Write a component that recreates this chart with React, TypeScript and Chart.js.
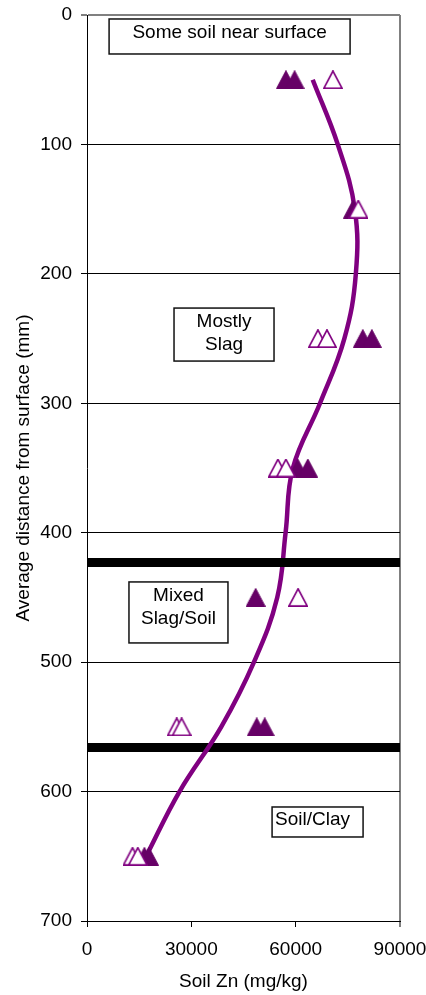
import React, { useEffect, useRef } from 'react';
import { Chart, registerables } from 'chart.js';

Chart.register(...registerables);

// ---- data ----
const X_TICK_STEP = 30000;
const X_MAX = 90000;
const Y_TICK_STEP = 100;
const Y_MAX = 700;

const filledDepth = [50, 50, 150, 250, 250, 350, 350, 450, 550, 550, 650, 650];
const filledZn = [57200, 59700, 76500, 79300, 81900, 60600, 63500, 48500, 48800, 51100, 16500, 17800];

const openDepth = [50, 150, 250, 250, 350, 350, 450, 550, 550, 650, 650];
const openZn = [70700, 78000, 66400, 69000, 54900, 57200, 60700, 25800, 27200, 13100, 14600];

const trendDepth = [50, 100, 150, 200, 250, 300, 350, 400, 450, 500, 550, 600, 650];
const trendZn = [64900, 72100, 77000, 77300, 74000, 67000, 59200, 57100, 54700, 48000, 38600, 26600, 17000];

const boundaryDepths = [423, 566];

const noteText = [['Some soil near surface'], ['Mostly', 'Slag'], ['Mixed', 'Slag/Soil'], ['Soil/Clay']];
const noteZn = [41000, 39400, 26300, 66300];
const noteDepth = [16.6, 246.9, 461.6, 623.5];

// ---- styles ----
const FONT_FAMILY = '"Liberation Sans", Arial, Helvetica, sans-serif';
const FONT = { family: FONT_FAMILY, size: 19 };
const NOTE_BOX = [[241, 35], [100, 53], [99, 61], [91, 30]];
const NOTE_BASE = [[1.8], [-7.2, 15.8], [-11.5, 11.5], [3]];
const NOTE_DX = [0, 0, 0, -5];

function makeTriangle(fill: string, stroke: string, lw: number) {
  const c = document.createElement('canvas');
  c.width = 20;
  c.height = 19;
  const g = c.getContext('2d')!;
  const i = lw / 2;
  g.beginPath();
  g.moveTo(10, i);
  g.lineTo(20 - i, 19 - i);
  g.lineTo(i, 19 - i);
  g.closePath();
  g.fillStyle = fill;
  g.fill();
  g.lineWidth = lw;
  g.strokeStyle = stroke;
  g.stroke();
  return c;
}

const notesPlugin = {
  id: 'notes',
  afterDatasetsDraw(chart: any) {
    const { ctx, scales } = chart;
    const x = scales.x;
    const y = scales.y;
    ctx.save();
    noteText.forEach((lines, i) => {
      const cx = x.getPixelForValue(noteZn[i]);
      const cy = y.getPixelForValue(noteDepth[i]);
      const [w, h] = NOTE_BOX[i];
      ctx.fillStyle = '#ffffff';
      ctx.fillRect(cx - w / 2, cy - h / 2, w, h);
      ctx.strokeStyle = '#111111';
      ctx.lineWidth = 1.5;
      ctx.strokeRect(cx - w / 2, cy - h / 2, w, h);
      ctx.fillStyle = '#000000';
      ctx.font = `19px ${FONT_FAMILY}`;
      ctx.textAlign = 'center';
      ctx.textBaseline = 'alphabetic';
      lines.forEach((t, j) => ctx.fillText(t, cx + NOTE_DX[i], cy + NOTE_BASE[i][j]));
    });
    ctx.restore();
  },
};

export default function App() {
  const ref = useRef<HTMLCanvasElement | null>(null);

  useEffect(() => {
    if (!ref.current) return;
    const filledTri = makeTriangle('#660066', '#660066', 1);
    const openTri = makeTriangle('#ffffff', '#800080', 1.7);

    const chart = new Chart(ref.current, {
      type: 'scatter',
      data: {
        datasets: [
          {
            label: 'open',
            data: openZn.map((v, i) => ({ x: v, y: openDepth[i] })),
            pointStyle: openTri as any,
            pointRadius: 10,
            showLine: false,
            order: 1,
          },
          {
            label: 'filled',
            data: filledZn.map((v, i) => ({ x: v, y: filledDepth[i] })),
            pointStyle: filledTri as any,
            pointRadius: 10,
            showLine: false,
            order: 2,
          },
          {
            label: 'boundary1',
            data: [{ x: 0, y: boundaryDepths[0] }, { x: X_MAX, y: boundaryDepths[0] }],
            showLine: true,
            borderColor: '#000000',
            borderWidth: 9,
            borderCapStyle: 'butt',
            pointRadius: 0,
            order: 3,
          },
          {
            label: 'trend',
            data: trendZn.map((v, i) => ({ x: v, y: trendDepth[i] })),
            showLine: true,
            borderColor: '#800080',
            borderWidth: 4.5,
            tension: 0.4,
            pointRadius: 0,
            order: 4,
          },
          {
            label: 'boundary2',
            data: [{ x: 0, y: boundaryDepths[1] }, { x: X_MAX, y: boundaryDepths[1] }],
            showLine: true,
            borderColor: '#000000',
            borderWidth: 9,
            borderCapStyle: 'butt',
            pointRadius: 0,
            order: 5,
          },
        ],
      } as any,
      options: {
        animation: false,
        responsive: false,
        events: [],
        layout: { padding: { top: 15, right: 26, left: 0, bottom: 0 } },
        plugins: { legend: { display: false }, tooltip: { enabled: false } },
        scales: {
          x: {
            type: 'linear',
            position: 'bottom',
            min: 0,
            max: X_MAX,
            ticks: {
              stepSize: X_TICK_STEP,
              color: '#000',
              font: FONT,
              padding: 11,
              maxRotation: 0,
              callback: (v: any) => String(v),
            },
            grid: {
              color: (c: any) => (c.tick && c.tick.value === X_MAX ? '#808080' : 'rgba(0,0,0,0)'),
              lineWidth: (c: any) => (c.tick && c.tick.value === X_MAX ? 2 : 1),
              tickColor: '#000',
              tickWidth: 1,
              tickLength: 6,
            },
            border: { color: '#000', width: 1 },
            title: {
              display: true,
              text: 'Soil Zn (mg/kg)',
              color: '#000',
              font: FONT,
              padding: { top: 0, bottom: 2 },
            },
            afterFit: (s: any) => {
              s.height = 74;
              s.paddingLeft = 0;
              s.paddingRight = 0;
            },
          },
          y: {
            type: 'linear',
            position: 'left',
            reverse: true,
            min: 0,
            max: Y_MAX,
            ticks: {
              stepSize: Y_TICK_STEP,
              color: '#000',
              font: FONT,
              padding: 9,
            },
            grid: {
              color: (c: any) => (c.tick && c.tick.value === 0 ? '#808080' : '#000'),
              lineWidth: (c: any) => (c.tick && c.tick.value === 0 ? 2 : 1),
              tickColor: '#000',
              tickWidth: 1,
              tickLength: 6,
            },
            border: { color: '#000', width: 1 },
            title: {
              display: true,
              text: 'Average distance from surface (mm)',
              color: '#000',
              font: FONT,
              padding: { top: 12, bottom: 0 },
            },
            afterFit: (s: any) => {
              s.width = 87;
              s.paddingTop = 0;
              s.paddingBottom = 0;
            },
          },
        },
      } as any,
      plugins: [notesPlugin],
    });
    return () => chart.destroy();
  }, []);

  return (
    <div style={{ position: 'absolute', left: 0, top: 0, width: 426, height: 995, background: '#fff' }}>
      <canvas ref={ref} width={426} height={995} style={{ display: 'block', width: 426, height: 995 }} />
    </div>
  );
}
